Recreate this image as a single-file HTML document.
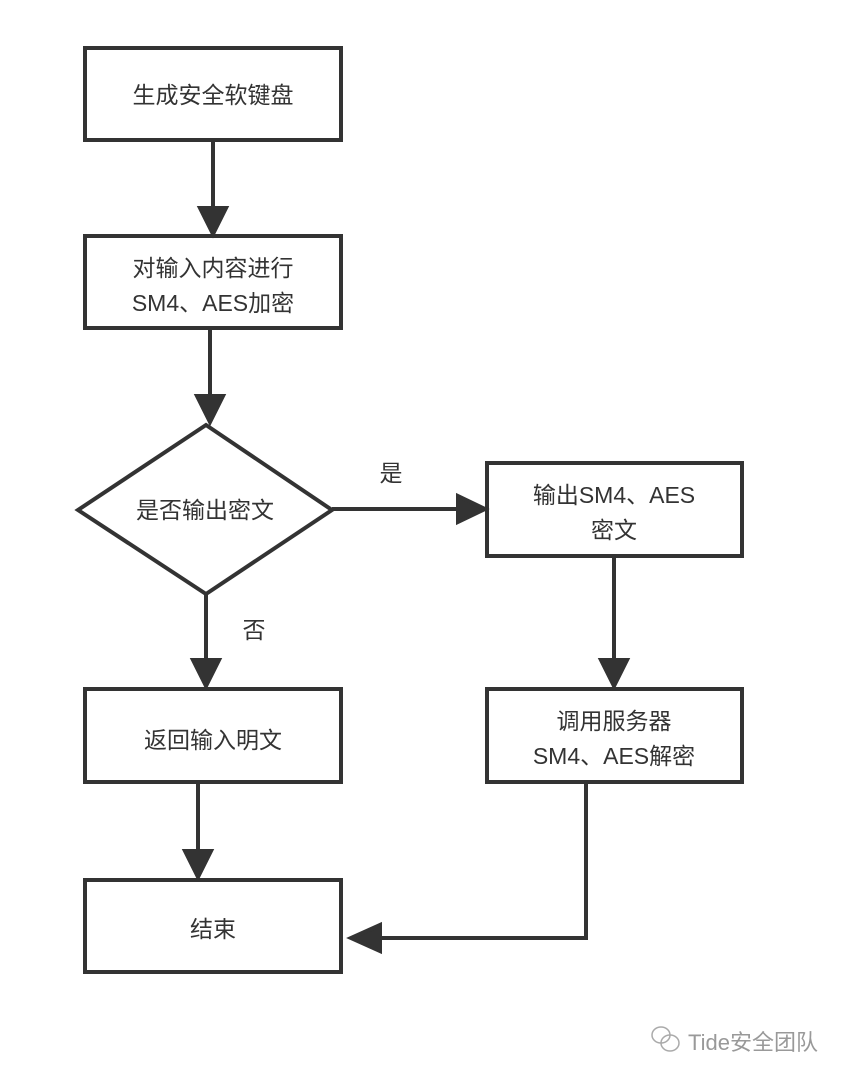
<!DOCTYPE html>
<html><head><meta charset="utf-8"><style>
body{margin:0;background:#fff;}
svg text{font-family:"Liberation Sans","Noto Sans CJK SC",sans-serif;fill:#333;}
</style></head><body>
<svg width="842" height="1078" viewBox="0 0 842 1078">
<defs><marker id="a" markerWidth="8" markerHeight="8" refX="7" refY="4" orient="auto" markerUnits="userSpaceOnUse"><path d="M0,0 L8,4 L0,8 Z" fill="#333"/></marker></defs>
<g fill="none" stroke="#333" stroke-width="4">
<rect x="85" y="48" width="256" height="92"/>
<rect x="85" y="236" width="256" height="92"/>
<polygon points="206,425 332,510 206,594 78,510"/>
<rect x="487" y="463" width="255" height="93"/>
<rect x="487" y="689" width="255" height="93"/>
<rect x="85" y="689" width="256" height="93"/>
<rect x="85" y="880" width="256" height="92"/>
</g>
<g stroke="#333" stroke-width="4" fill="#333">
<line x1="213" y1="140" x2="213" y2="210"/><polygon points="200,208 226,208 213,234"/>
<line x1="210" y1="328" x2="210" y2="398"/><polygon points="197,396 223,396 210,422"/>
<line x1="332" y1="509" x2="460" y2="509"/><polygon points="458,496 458,522 485,509"/>
<line x1="614" y1="556" x2="614" y2="662"/><polygon points="601,660 627,660 614,686"/>
<line x1="206" y1="594" x2="206" y2="662"/><polygon points="193,660 219,660 206,686"/>
<line x1="198" y1="782" x2="198" y2="853"/><polygon points="185,851 211,851 198,877"/>
<polyline fill="none" points="586,782 586,938 378,938"/><polygon points="380,925 380,951 351,938"/>
</g>
<g font-size="23" text-anchor="middle">
<text x="213" y="103">生成安全软键盘</text>
<text x="213" y="276">对输入内容进行</text>
<text x="213" y="311">SM4、AES加密</text>
<text x="205" y="518">是否输出密文</text>
<text x="391" y="481">是</text>
<text x="254" y="638">否</text>
<text x="614" y="503">输出SM4、AES</text>
<text x="614" y="538">密文</text>
<text x="614" y="729">调用服务器</text>
<text x="614" y="764">SM4、AES解密</text>
<text x="213" y="748">返回输入明文</text>
<text x="213" y="937">结束</text>
</g>
<g fill="none" stroke="#aaa" stroke-width="1.5">
<ellipse cx="661" cy="1035" rx="9" ry="8"/><ellipse cx="670" cy="1043" rx="9" ry="8"/>
</g>
<text x="688" y="1050" font-size="22" style="fill:#999">Tide安全团队</text>
</svg>
</body></html>
